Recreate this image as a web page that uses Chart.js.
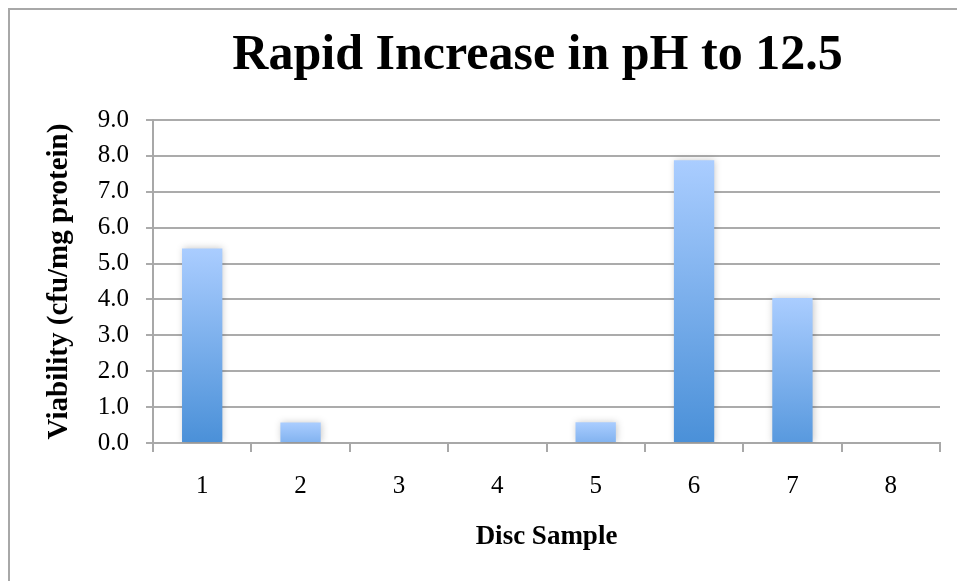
<!DOCTYPE html>
<html>
<head>
<meta charset="utf-8">
<script src="https://cdn.jsdelivr.net/npm/chart.js@4/dist/chart.umd.min.js"></script>
<style>
  html, body { margin: 0; padding: 0; background: #ffffff; }
  #wrap { width: 957px; height: 581px; }
</style>
</head>
<body>
<div id="wrap"><canvas id="c" width="957" height="581"></canvas></div>
<script>
// Chart content
const chartTitle = 'Rapid Increase in pH to 12.5';
const xTitle = 'Disc Sample';
const yTitle = 'Viability (cfu/mg protein)';
const discSamples = ['1', '2', '3', '4', '5', '6', '7', '8'];
const viability = [5.42, 0.57, 0, 0, 0.58, 7.88, 4.04, 0];
const yMin = 0, yMax = 9, yStep = 1;

const SERIF = '"Liberation Serif", "DejaVu Serif", serif';

// Per-bar vertical gradient: light at the top of the bar, deeper blue at its base
function barGradient(ctx) {
  const chart = ctx.chart;
  const yScale = chart.scales.y;
  if (!chart.chartArea || !yScale || ctx.type !== 'data') return '#79aee8';
  const v = ctx.raw || 0;
  const top = yScale.getPixelForValue(v);
  const base = yScale.getPixelForValue(0);
  const h = Math.max(base - top, 1);
  const full = yScale.getPixelForValue(0) - yScale.getPixelForValue(8);
  const g = chart.ctx.createLinearGradient(0, top, 0, base);
  // shorter bars do not reach the full depth of colour
  const frac = Math.min(1, h / full + 0.35);
  const mix = (a, b, t) => Math.round(a + (b - a) * t);
  const bottom = `rgb(${mix(169, 74, frac)},${mix(203, 144, frac)},${mix(255, 216, frac)})`;
  g.addColorStop(0, '#aacdff');
  g.addColorStop(1, bottom);
  return g;
}

// Frame and title drawn around the chart area
const framePlugin = {
  id: 'frame',
  beforeDraw(chart) {
    const c = chart.ctx;
    c.save();
    c.fillStyle = '#ffffff';
    c.fillRect(0, 0, chart.width, chart.height);
    c.strokeStyle = '#a8a8a8';
    c.lineWidth = 2;
    c.strokeRect(9, 9, chart.width + 20, chart.height + 20);
    c.restore();
  },
  afterDraw(chart) {
    const c = chart.ctx;
    const a = chart.chartArea;
    c.save();
    c.fillStyle = '#000000';
    c.font = 'bold 50px ' + SERIF;
    c.textAlign = 'center';
    c.textBaseline = 'alphabetic';
    c.fillText(chartTitle, (a.left + a.right) / 2 - 9, 69);
    c.restore();
  }
};

// Soft shadow behind the bars
const shadowPlugin = {
  id: 'barShadow',
  beforeDatasetsDraw(chart) {
    const c = chart.ctx;
    c.save();
    c.shadowColor = 'rgba(0,0,0,0.22)';
    c.shadowBlur = 7;
    c.shadowOffsetX = 1;
    c.shadowOffsetY = 0;
  },
  afterDatasetsDraw(chart) {
    chart.ctx.restore();
  }
};

new Chart(document.getElementById('c'), {
  type: 'bar',
  data: {
    labels: discSamples,
    datasets: [{
      data: viability,
      backgroundColor: barGradient,
      borderWidth: 0,
      categoryPercentage: 1.0,
      barPercentage: 0.41
    }]
  },
  options: {
    responsive: false,
    animation: false,
    devicePixelRatio: 1,
    layout: { padding: { left: 9, right: 17, top: 120, bottom: 0 } },
    plugins: {
      legend: { display: false },
      title: { display: false },
      tooltip: { enabled: false }
    },
    scales: {
      x: {
        afterFit(s) { s.height = 138; },
        grid: {
          display: true,
          offset: true,
          drawOnChartArea: false,
          drawTicks: true,
          tickLength: 9,
          color: '#a8a8a8',
          lineWidth: 2
        },
        border: { display: true, color: '#a8a8a8', width: 2 },
        ticks: {
          color: '#000000',
          font: { family: SERIF, size: 25 },
          padding: 19,
          maxRotation: 0
        },
        title: {
          display: true,
          text: xTitle,
          color: '#000000',
          font: { family: SERIF, size: 27, weight: 'bold' },
          padding: { top: 0, bottom: 28 }
        }
      },
      y: {
        min: yMin,
        max: yMax,
        afterFit(s) { s.width = 144; },
        grid: {
          color: '#ababab',
          lineWidth: 2,
          tickLength: 7,
          drawTicks: true
        },
        border: { display: true, color: '#a8a8a8', width: 2 },
        ticks: {
          stepSize: yStep,
          color: '#000000',
          font: { family: SERIF, size: 25 },
          padding: 17,
          callback: v => Number(v).toFixed(1)
        },
        title: {
          display: true,
          text: yTitle,
          color: '#000000',
          font: { family: SERIF, size: 29, weight: 'bold' },
          padding: { top: 33, bottom: 0 }
        }
      }
    }
  },
  plugins: [framePlugin, shadowPlugin]
});
</script>
</body>
</html>
